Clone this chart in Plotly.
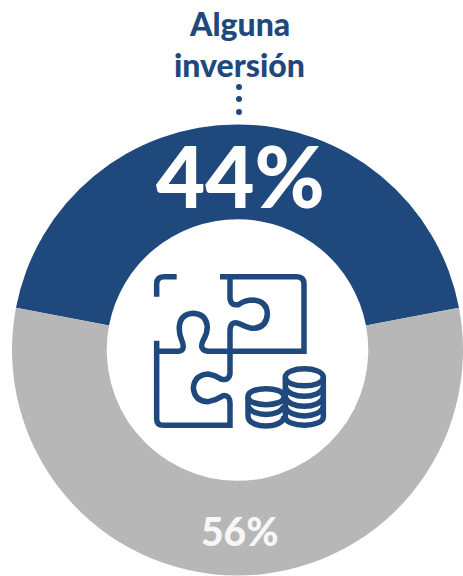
import re
import plotly.graph_objects as go

categories = ["Alguna inversión", "Ninguna inversión"]
values = [44, 56]
colors = ["#1F497D", "#B7B7B7"]
W, H = 463, 576
BLUE = colors[0]
FONT = "Lato"


def px(x, y):
    return f"{x / W:.5f},{1 - y / H:.5f}"


def zoom_path(d):
    """Icon outline drawn in zoom-crop coordinates, mapped to paper coordinates."""
    def rep(m):
        return px(130 + float(m.group(1)) / 3, 260 + float(m.group(2)) / 3)
    return re.sub(r"(-?[\d.]+),(-?[\d.]+)", rep, d)


ICON = [
    "M80,110 L80,72 Q80,50 102,50 L140,50",
    "M270,50 L500,50 Q522,50 522,72 L522,274 L235,274 Q205,270 220,240 Q232,220 232,200 Q228,162 190,160 Q152,162 148,198 Q146,218 155,240 Q168,272 145,274 L80,274",
    "M300,50 L300,115 Q302,138 325,134 Q345,120 370,120 Q412,125 412,162 Q410,205 365,205 Q345,200 325,190 Q302,182 300,210 L300,340 Q298,362 275,358 Q255,345 235,342 Q192,345 190,385 Q195,425 235,425 Q260,420 280,407 Q300,405 300,430 L300,496 L100,496 Q80,496 80,476 L80,242",
    # right coin stack
    "M466,352 C466,318 580,318 580,352 C580,386 466,386 466,352 Z",
    "M466,352 L466,470 C466,504 580,504 580,470 L580,352",
    "M466,381 C475,418 571,418 580,381",
    "M466,411 C475,448 571,448 580,411",
    "M466,440 C475,477 571,477 580,440",
    # left coin stack
    "M354,410 C354,378 462,378 462,410 C462,442 354,442 354,410 Z",
    "M354,410 L354,468 C354,508 462,508 462,468",
    "M354,437 C363,472 453,472 462,437",
]

fig = go.Figure(
    go.Pie(
        labels=categories,
        values=values,
        hole=0.58,
        sort=False,
        direction="clockwise",
        rotation=-79.2,
        marker=dict(colors=colors, line=dict(width=0)),
        textinfo="none",
        hoverinfo="label+percent",
        domain=dict(x=[12 / W, 1], y=[0, 1 - 124 / H]),
        showlegend=False,
    )
)

shapes = [
    dict(type="path", xref="paper", yref="paper", path=zoom_path(d),
         line=dict(color=BLUE, width=5.5), fillcolor="rgba(0,0,0,0)", layer="above")
    for d in ICON
]
for y in (87, 99, 112):
    shapes.append(dict(type="circle", xref="paper", yref="paper",
                       x0=(239 - 3) / W, x1=(239 + 3) / W,
                       y0=1 - (y + 3) / H, y1=1 - (y - 3) / H,
                       fillcolor=BLUE, line=dict(width=0)))

annotations = [
    dict(text="Alguna", x=239 / W, y=1 - 24 / H, font=dict(size=32, color=BLUE, family=FONT, weight=900)),
    dict(text="inversión", x=239 / W, y=1 - 64 / H, font=dict(size=32, color=BLUE, family=FONT, weight=900)),
    dict(text=f"{values[0]}%", x=240 / W, y=1 - 175 / H, font=dict(size=85, color="white", family=FONT, weight=900)),
    dict(text=f"{values[1]}%", x=240 / W, y=1 - 531 / H, font=dict(size=39, color="#F7F7F7", family=FONT, weight=900)),
]
for a in annotations:
    a.update(xref="paper", yref="paper", showarrow=False, xanchor="center", yanchor="middle")

fig.update_layout(
    width=W, height=H, margin=dict(l=0, r=0, t=0, b=0),
    paper_bgcolor="white", plot_bgcolor="white",
    shapes=shapes, annotations=annotations,
)
fig.write_html("out.html", config={"displayModeBar": False},
               post_script="document.body.style.margin='0';document.documentElement.style.overflow='hidden';")
